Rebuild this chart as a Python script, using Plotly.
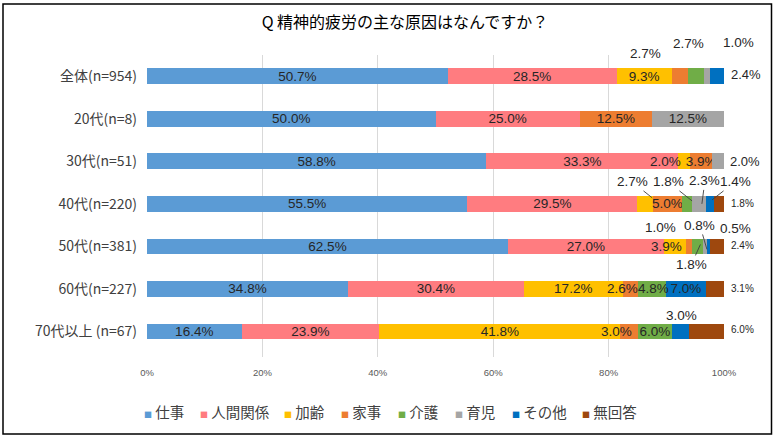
import plotly.graph_objects as go

# ---------------- data ----------------
categories = ["全体(n=954)", "20代(n=8)", "30代(n=51)", "40代(n=220)",
              "50代(n=381)", "60代(n=227)", "70代以上 (n=67)"]
series_names = ["仕事", "人間関係", "加齢", "家事", "介護", "育児", "その他", "無回答"]
shigoto = [50.7, 50.0, 58.8, 55.5, 62.5, 34.8, 16.4]
ningen_kankei = [28.5, 25.0, 33.3, 29.5, 27.0, 30.4, 23.9]
karei = [9.3, 0, 2.0, 2.7, 3.9, 17.2, 41.8]
kaji = [2.7, 12.5, 3.9, 5.0, 1.0, 2.6, 3.0]
kaigo = [2.7, 0, 0, 1.8, 1.8, 4.8, 6.0]
ikuji = [1.0, 12.5, 2.0, 2.3, 0.8, 0, 0]
sonota = [2.4, 0, 0, 1.4, 0.5, 7.0, 3.0]
mukaito = [0, 0, 0, 1.8, 2.4, 3.1, 6.0]
series_values = [shigoto, ningen_kankei, karei, kaji, kaigo, ikuji, sonota, mukaito]
tick_values = [0, 20, 40, 60, 80, 100]
tick_labels = ["0%", "20%", "40%", "60%", "80%", "100%"]
title_text = "Q 精神的疲労の主な原因はなんですか？"

# ---------------- style ----------------
colors = ["#5B9BD5", "#FF7C80", "#FFC000", "#ED7D31", "#70AD47",
          "#A5A5A5", "#0070C0", "#9E480E"]
FONT = "Liberation Sans, Noto Sans CJK JP, sans-serif"
CJK = "Noto Sans CJK JP, sans-serif"
TXT = "#262626"
LBL = 13.5
W, H = 776, 438
ML, MR, MT, MB = 147, 52, 55, 81
PW = W - ML - MR
PH = H - MT - MB
PX = PW / 100.0  # pixels per percent

# label placement overrides: (row, series, kind, params)
label_specs = [
    (0, 3, "shift", dict(dx=-34, dy=-23)),
    (0, 4, "shift", dict(dx=-7, dy=-33)),
    (0, 5, "shift", dict(dx=32, dy=-34)),
    (0, 6, "right", dict(xs=22, dy=-2, size=13)),
    (2, 2, "shift", dict(dx=-19, dy=0)),
    (2, 5, "right", dict(xs=21, dy=0, size=13)),
    (3, 2, "lead", dict(tx=7, ty=-6, ax=-20, ay=-16)),
    (3, 4, "lead", dict(tx=5, ty=-3, ax=-24, ay=-19)),
    (3, 5, "lead", dict(tx=3, ty=0, ax=3, ay=-23)),
    (3, 6, "lead", dict(tx=2.5, ty=-4, ax=23, ay=-18)),
    (3, 7, "right", dict(xs=18, dy=0, size=10)),
    (4, 2, "shift", dict(dx=-9, dy=0)),
    (4, 3, "shift", dict(dx=-29, dy=-19)),
    (4, 5, "lead", dict(tx=2, ty=3, ax=-7, ay=-24)),
    (4, 6, "shift", dict(dx=27, dy=-18)),
    (4, 4, "lead", dict(tx=3, ty=-2, ax=-9, ay=20)),
    (4, 7, "right", dict(xs=18, dy=-1, size=10)),
    (5, 3, "shift", dict(dx=-8, dy=0)),
    (5, 4, "shift", dict(dx=2, dy=0)),
    (5, 7, "right", dict(xs=18, dy=0, size=10)),
    (6, 3, "shift", dict(dx=-12, dy=0)),
    (6, 6, "shift", dict(dx=1, dy=-16)),
    (6, 7, "right", dict(xs=18, dy=-2, size=10)),
]
special = {(r, s) for r, s, _, _ in label_specs}

fig = go.Figure()
for s, (name, vals) in enumerate(zip(series_names, series_values)):
    texts = []
    for r, v in enumerate(vals):
        if v > 0 and (r, s) not in special:
            texts.append(f"{v:.1f}%")
        else:
            texts.append("")
    fig.add_trace(go.Bar(
        y=categories, x=vals, name=name, orientation="h",
        marker=dict(color=colors[s], line=dict(width=0)),
        text=texts, textposition="inside", insidetextanchor="middle",
        textangle=0, constraintext="none",
        textfont=dict(family=FONT, size=LBL, color=TXT),
        hoverinfo="skip",
    ))

# normalized centers (same normalisation as barnorm="percent")
totals = [sum(series_values[s][r] for s in range(len(series_values)))
          for r in range(len(categories))]
centers = {}
for r in range(len(categories)):
    acc = 0.0
    for s in range(len(series_values)):
        w = series_values[s][r] / totals[r] * 100
        centers[(r, s)] = acc + w / 2
        acc += w

annotations = []
for r, s, kind, p in label_specs:
    v = series_values[s][r]
    t = f"{v:.1f}%"
    if kind == "shift":
        annotations.append(dict(x=centers[(r, s)], y=categories[r], xref="x", yref="y",
                                text=t, showarrow=False, xshift=p["dx"], yshift=-p["dy"],
                                font=dict(family=FONT, size=LBL, color=TXT)))
    elif kind == "right":
        annotations.append(dict(x=100, y=categories[r], xref="x", yref="y",
                                text=t, showarrow=False, xanchor="center",
                                xshift=p["xs"], yshift=-p["dy"],
                                font=dict(family=FONT, size=p["size"], color=TXT)))
    else:
        annotations.append(dict(x=centers[(r, s)] + p["tx"] / PX, y=categories[r],
                                xref="x", yref="y", yshift=-p["ty"],
                                text=t, showarrow=True, arrowhead=0, arrowwidth=0.9,
                                arrowcolor="#404040", ax=p["ax"], ay=p["ay"],
                                standoff=0, startstandoff=0,
                                font=dict(family=FONT, size=LBL, color=TXT)))

# legend drawn as text items
legend_px = [142, 198, 282, 339, 396, 453, 510, 580]
legend_y = -((411 - (MT + PH)) / PH)
for s, name in enumerate(series_names):
    annotations.append(dict(
        x=(legend_px[s] - ML) / PW, y=legend_y, xref="paper", yref="paper",
        xanchor="left", yanchor="middle", showarrow=False,
        text=f"<span style='color:{colors[s]};font-size:8px'>■</span> {name}",
        font=dict(family=CJK, size=14.5, color="#404040")))

fig.update_layout(
    width=W, height=H,
    margin=dict(l=ML, r=MR, t=MT, b=MB, pad=0),
    paper_bgcolor="white", plot_bgcolor="white",
    barmode="stack", barnorm="percent", bargap=0.63,
    showlegend=False,
    title=dict(text=title_text, xref="container", yref="container",
               x=405 / W, y=1 - 22 / H, xanchor="center", yanchor="middle",
               font=dict(family=CJK, size=16, color="#000000")),
    xaxis=dict(range=[0, 100], tickvals=tick_values, ticktext=tick_labels,
               showgrid=True, gridcolor="#D9D9D9", gridwidth=1, zeroline=False,
               showline=False, ticks="", ticklabelstandoff=8,
               tickfont=dict(family=FONT, size=9.5, color="#595959"), fixedrange=True),
    yaxis=dict(type="category", categoryorder="array", categoryarray=categories,
               autorange="reversed", showgrid=False, zeroline=False, ticks="",
               ticklabelstandoff=9,
               tickfont=dict(family=CJK, size=14, color="#404040"), fixedrange=True),
    annotations=annotations,
    shapes=[dict(type="rect", xref="paper", yref="paper",
                 x0=(3 - ML) / PW, x1=(771.5 - ML) / PW,
                 y0=-(434 - (MT + PH)) / PH, y1=(MT + PH - 4) / PH,
                 line=dict(color="#000000", width=1.5), fillcolor="rgba(0,0,0,0)")],
)

fig.write_html(
    "out.html",
    config={"displayModeBar": False},
    post_script="document.body.style.margin='0';document.body.style.overflow='hidden';",
)
